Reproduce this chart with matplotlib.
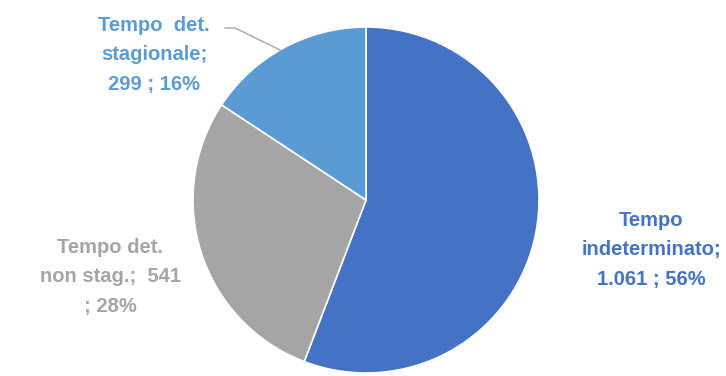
import matplotlib.pyplot as plt

categories = ["Tempo indeterminato", "Tempo det. non stag.", "Tempo  det. stagionale"]
values = [1061, 541, 299]
value_labels = ["1.061", "541", "299"]
colors = ["#4472C4", "#A5A5A5", "#5B9BD5"]

total = sum(values)
pcts = [round(v / total * 100) for v in values]

fig = plt.figure(figsize=(7.26, 3.76), dpi=100)
ax = fig.add_axes([0, 0, 1, 1])

cx, cy, r = 366, 176, 173
ax.pie(values, colors=colors, startangle=90, counterclock=False,
       center=(cx, cy), radius=r, frame=True,
       wedgeprops=dict(edgecolor="white", linewidth=1.2))
ax.set_xlim(0, 726)
ax.set_ylim(0, 376)
ax.set_aspect("equal")
ax.axis("off")

font = dict(fontfamily="Liberation Sans", fontweight="bold", fontsize=14.5,
            ha="center", va="center", linespacing=1.7)

ax.text(651, 376 - 250,
        "Tempo\nindeterminato;\n%s ; %d%%" % (value_labels[0], pcts[0]),
        color=colors[0], **font)
ax.text(110, 376 - 277,
        "Tempo det.\nnon stag.;  %s\n; %d%%" % (value_labels[1], pcts[1]),
        color=colors[1], **font)
ax.text(154, 376 - 55,
        "Tempo  det.\nstagionale;\n%s ; %d%%" % (value_labels[2], pcts[2]),
        color=colors[2], **font)

# leader line for the small slice
ax.plot([225, 235, 280], [376 - 28, 376 - 28, 376 - 50],
        color="#A5A5A5", linewidth=1)

fig.savefig("out.png", dpi=100)
